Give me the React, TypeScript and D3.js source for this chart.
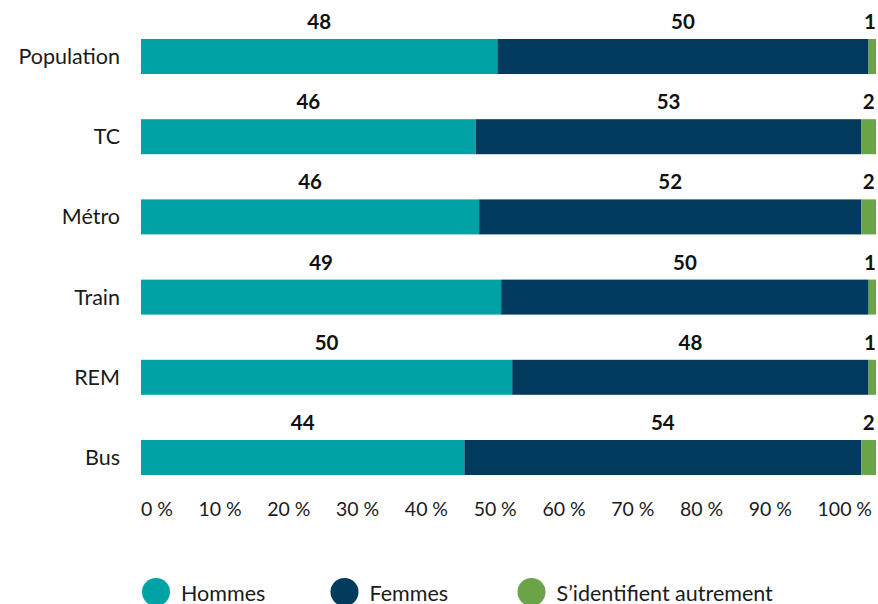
import * as d3 from 'd3';
import { useRef, useEffect } from 'react';

const categories = ['Population', 'TC', 'Métro', 'Train', 'REM', 'Bus'];
const hommes = [48, 46, 46, 49, 50, 44];
const femmes = [50, 53, 52, 50, 48, 54];
const autrement = [1, 2, 2, 1, 1, 2];

const seriesNames = ['Hommes', 'Femmes', 'S’identifient autrement'];
const seriesColors = ['#00A2A5', '#003B5E', '#6BA447'];
const tickValues = [0, 0.1, 0.2, 0.3, 0.4, 0.5, 0.6, 0.7, 0.8, 0.9, 1];

const W = 878;
const H = 604;
const FONT = 'Lato, "Open Sans", sans-serif';

export default function App() {
  const svgRef = useRef<SVGSVGElement>(null);

  useEffect(() => {
    if (!svgRef.current) return;
    const svg = d3.select(svgRef.current);
    svg.selectAll('*').remove();

    const rows = categories.map((c, i) => ({
      cat: c,
      Hommes: hommes[i],
      Femmes: femmes[i],
      'S’identifient autrement': autrement[i],
    }));

    const stack = d3.stack<any>().keys(seriesNames).offset(d3.stackOffsetExpand);
    const stacked = stack(rows);

    const x = d3.scaleLinear().domain([0, 1]).range([141, 876]);
    const y = d3.scaleBand().domain(categories).range([39, 475]).paddingInner(0.5636).paddingOuter(0);
    const color = d3.scaleOrdinal<string>().domain(seriesNames).range(seriesColors);

    // bars
    const layers = svg.append('g')
      .selectAll('g')
      .data(stacked)
      .join('g')
      .attr('fill', (d) => color(d.key));

    layers.selectAll('rect')
      .data((d) => d)
      .join('rect')
      .attr('x', (d) => x(d[0]))
      .attr('y', (d) => y(d.data.cat)!)
      .attr('width', (d) => x(d[1]) - x(d[0]))
      .attr('height', y.bandwidth());

    // value labels above each segment
    stacked.forEach((layer) => {
      svg.append('g')
        .selectAll('text')
        .data(layer)
        .join('text')
        .attr('x', (d) => {
          const cx = (x(d[0]) + x(d[1])) / 2;
          return Math.min(cx, 870);
        })
        .attr('y', (d) => y(d.data.cat)! - 10)
        .attr('text-anchor', 'middle')
        .attr('font-family', FONT)
        .attr('font-weight', 700)
        .attr('font-size', 20.5)
        .attr('fill', '#111')
        .text((d) => d.data[layer.key]);
    });

    // category axis
    svg.append('g')
      .selectAll('text')
      .data(categories)
      .join('text')
      .attr('x', 120)
      .attr('y', (d) => y(d)! + y.bandwidth() / 2)
      .attr('dy', '0.35em')
      .attr('text-anchor', 'end')
      .attr('font-family', FONT)
      .attr('font-size', 21.5)
      .attr('fill', '#1a1a1a')
      .text((d) => d);

    // x tick labels, spread evenly between the bar edges
    const fmt = (v: number) => `${Math.round(v * 100)}\u202F%`;
    const ticks = svg.append('g')
      .selectAll('text')
      .data(tickValues)
      .join('text')
      .attr('y', 516)
      .attr('font-family', FONT)
      .attr('font-size', 19.5)
      .attr('fill', '#1a1a1a')
      .text(fmt);

    const nodes = ticks.nodes() as SVGTextElement[];
    const widths = nodes.map((n) => n.getComputedTextLength());
    const left = x(0);
    const right = 872;
    const gap = (right - left - d3.sum(widths)) / (nodes.length - 1);
    let cursor = left;
    nodes.forEach((n, i) => {
      d3.select(n).attr('x', cursor);
      cursor += widths[i] + gap;
    });

    // legend
    const legendX = [156, 344.5, 531.5];
    const legend = svg.append('g')
      .selectAll('g')
      .data(seriesNames)
      .join('g')
      .attr('transform', (_, i) => `translate(${legendX[i]},592)`);

    legend.append('circle').attr('r', 14).attr('fill', (d) => color(d));
    legend.append('text')
      .attr('x', 25)
      .attr('y', 9)
      .attr('font-family', FONT)
      .attr('font-size', 21.5)
      .attr('fill', '#1a1a1a')
      .text((d) => d);
  }, []);

  return (
    <svg
      ref={svgRef}
      width={W}
      height={H}
      style={{ position: 'absolute', left: 0, top: 0, display: 'block', background: '#fff' }}
    />
  );
}
